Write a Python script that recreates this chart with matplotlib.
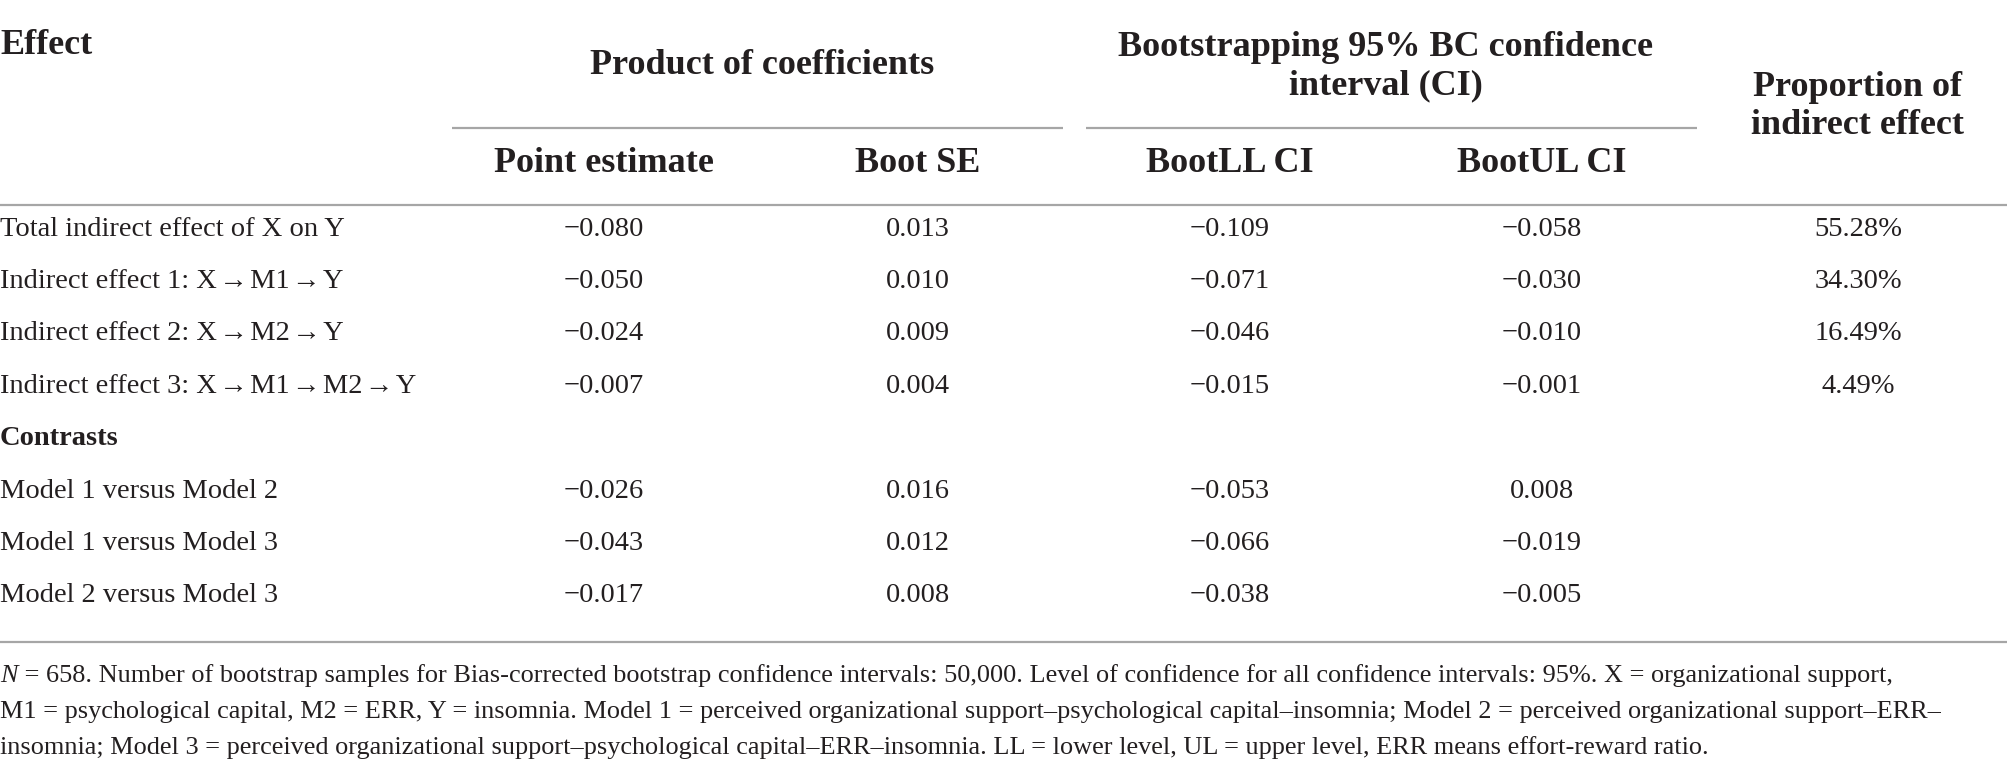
import matplotlib
matplotlib.use("Agg")
import matplotlib.pyplot as plt

# ---------------- data ----------------
HS = "\u200a"  # hair space around the arrows
ARR = HS + "→" + HS
effect_labels = ["Total indirect effect of X on Y",
                 "Indirect effect 1: X" + ARR + "M1" + ARR + "Y",
                 "Indirect effect 2: X" + ARR + "M2" + ARR + "Y",
                 "Indirect effect 3: X" + ARR + "M1" + ARR + "M2" + ARR + "Y"]
effect_point = [-0.080, -0.050, -0.024, -0.007]
effect_se = [0.013, 0.010, 0.009, 0.004]
effect_ll = [-0.109, -0.071, -0.046, -0.015]
effect_ul = [-0.058, -0.030, -0.010, -0.001]
effect_prop = [55.28, 34.30, 16.49, 4.49]

contrast_labels = ["Model 1 versus Model 2",
                   "Model 1 versus Model 3",
                   "Model 2 versus Model 3"]
contrast_point = [-0.026, -0.043, -0.017]
contrast_se = [0.016, 0.012, 0.008]
contrast_ll = [-0.053, -0.066, -0.038]
contrast_ul = [0.008, -0.019, -0.005]

group_headers = ["Product of coefficients",
                 "Bootstrapping 95% BC confidence\ninterval (CI)"]
col_headers = ["Point estimate", "Boot SE", "BootLL CI", "BootUL CI"]
prop_header = "Proportion of\nindirect effect"
first_header = "Effect"
section_label = "Contrasts"

footnote_lines = [
    " = 658. Number of bootstrap samples for Bias-corrected bootstrap confidence intervals: 50,000. Level of confidence for all confidence intervals: 95%. X = organizational support,",
    "M1 = psychological capital, M2 = ERR, Y = insomnia. Model 1 = perceived organizational support–psychological capital–insomnia; Model 2 = perceived organizational support–ERR–",
    "insomnia; Model 3 = perceived organizational support–psychological capital–ERR–insomnia. LL = lower level, UL = upper level, ERR means effort-reward ratio.",
]

# ---------------- style ----------------
W, H, DPI = 2008, 773, 100
TXT = "#231f20"
LINE = "#a6a6a6"
FONT = ["Liberation Serif", "DejaVu Serif"]
BODY = 20.5
HEAD = 26.0
FOOT = 18.9

plt.rcParams["font.family"] = FONT

fig = plt.figure(figsize=(W / DPI, H / DPI), dpi=DPI)
ax = fig.add_axes([0, 0, 1, 1])
ax.set_xlim(0, W)
ax.set_ylim(H, 0)
ax.axis("off")


def fmt(v):
    return f"{v:.3f}".replace("-", "−")


col_x = [604, 918, 1230, 1542]
prop_x = 1858
row_y0, row_dy = 229, 52.4

# headers
ax.text(0, 45, first_header, fontsize=HEAD, fontweight="bold", color=TXT,
        ha="left", va="center")
ax.text(762, 66, group_headers[0], fontsize=HEAD, fontweight="bold", color=TXT,
        ha="center", va="center")
ax.text(1386, 67, group_headers[1], fontsize=HEAD, fontweight="bold", color=TXT,
        ha="center", va="center", linespacing=1.2)
ax.text(prop_x, 107, prop_header, fontsize=HEAD, fontweight="bold", color=TXT,
        ha="center", va="center", linespacing=1.2)
for x, h in zip(col_x, col_headers):
    ax.text(x, 164, h, fontsize=HEAD, fontweight="bold", color=TXT,
            ha="center", va="center")

# rules
ax.plot([452, 1063], [128, 128], color=LINE, lw=1.6, solid_capstyle="butt")
ax.plot([1086, 1697], [128, 128], color=LINE, lw=1.6, solid_capstyle="butt")
ax.plot([0, W], [205, 205], color=LINE, lw=1.6, solid_capstyle="butt")
ax.plot([0, W], [642, 642], color=LINE, lw=1.6, solid_capstyle="butt")

# body rows
row = 0
for i, lab in enumerate(effect_labels):
    y = row_y0 + row_dy * row
    ax.text(0, y, lab, fontsize=BODY, color=TXT, ha="left", va="center")
    vals = [fmt(effect_point[i]), fmt(effect_se[i]), fmt(effect_ll[i]), fmt(effect_ul[i])]
    for x, v in zip(col_x, vals):
        ax.text(x, y, v, fontsize=BODY, color=TXT, ha="center", va="center")
    ax.text(prop_x, y, f"{effect_prop[i]:.2f}%", fontsize=BODY, color=TXT,
            ha="center", va="center")
    row += 1

y = row_y0 + row_dy * row
ax.text(0, y, section_label, fontsize=BODY, fontweight="bold", color=TXT,
        ha="left", va="center")
row += 1

for i, lab in enumerate(contrast_labels):
    y = row_y0 + row_dy * row
    ax.text(0, y, lab, fontsize=BODY, color=TXT, ha="left", va="center")
    vals = [fmt(contrast_point[i]), fmt(contrast_se[i]), fmt(contrast_ll[i]), fmt(contrast_ul[i])]
    for x, v in zip(col_x, vals):
        ax.text(x, y, v, fontsize=BODY, color=TXT, ha="center", va="center")
    row += 1

# footnote
foot_y = [676, 712, 748]
n_txt = ax.text(0, foot_y[0], "N", fontsize=FOOT, fontstyle="italic", color=TXT,
                ha="left", va="center")
fig.canvas.draw()
bb = n_txt.get_window_extent(fig.canvas.get_renderer())
nx = bb.x1 * W / fig.bbox.width
ax.text(nx, foot_y[0], footnote_lines[0], fontsize=FOOT, color=TXT,
        ha="left", va="center")
for yy, line in zip(foot_y[1:], footnote_lines[1:]):
    ax.text(0, yy, line, fontsize=FOOT, color=TXT, ha="left", va="center")

fig.savefig("out.png", dpi=DPI)
